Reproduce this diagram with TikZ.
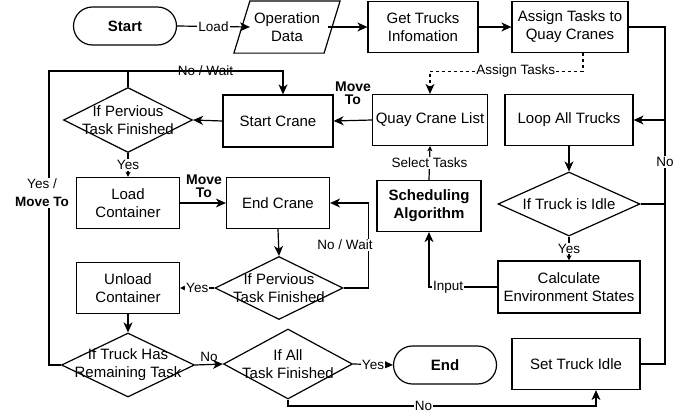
\documentclass[tikz,border=0pt]{standalone}
\usepackage{fontspec}
\setmainfont{Liberation Sans}
\usetikzlibrary{shapes.geometric,arrows.meta}
\begin{document}
\begin{tikzpicture}[x=1pt,y=-1pt,
  line width=1.2pt,
  box/.style={draw, rectangle, align=center, font=\fontsize{15}{18}\selectfont, minimum height=51pt, inner sep=0pt},
  term/.style={draw, rectangle, rounded corners=19pt, minimum width=103pt, minimum height=38pt, font=\bfseries\fontsize{15}{18}\selectfont},
  dia/.style={draw, diamond, inner sep=0pt},
  dtxt/.style={align=center, font=\fontsize{15}{18}\selectfont},
  arr/.style={-{Stealth[length=10pt,width=9pt,inset=3pt]}},
  sarr/.style={-{Stealth[length=5pt,width=5pt,inset=1pt]}},
  elab/.style={fill=white, inner sep=1pt, font=\fontsize{13.5}{15}\selectfont},
  mv/.style={align=center, font=\bfseries\fontsize{14}{13}\selectfont, inner sep=0pt}
]
\useasboundingbox (0,0) rectangle (699,413);

% nodes
\node[term] (start) at (125,26) {Start};
\node[box, draw=none, minimum width=89pt] (opdata) at (287,27) {Operation\\Data};
\draw ([xshift=8pt]opdata.north west) -- ([xshift=8pt]opdata.north east) -- ([xshift=-8pt]opdata.south east) -- ([xshift=-8pt]opdata.south west) -- cycle;
\node[box, minimum width=110pt] (gettruck) at (423,27) {Get Trucks\\Infomation};
\node[box, minimum width=116pt] (assign) at (570,27) {Assign Tasks to\\Quay Cranes};
\node[box, minimum width=128pt] (loop) at (569,120) {Loop All Trucks};
\node[box, minimum width=115pt] (qcl) at (430,120) {Quay Crane List};
\node[box, minimum width=110pt, minimum height=52pt] (startc) at (278,121) {Start Crane};
\node[dia, minimum width=129pt, minimum height=65pt, label={[dtxt]center:If Pervious\\Task Finished}] (d1) at (128,120) {};
\node[box, minimum width=103pt] (load) at (128,203) {Load\\Container};
\node[box, minimum width=103pt] (endc) at (278,203) {End Crane};
\node[dia, minimum width=128pt, minimum height=63pt, label={[dtxt]center:If Pervious\\Task Finished}] (d2) at (279,288) {};
\node[box, minimum width=103pt] (unload) at (128,288) {Unload\\Container};
\node[dia, minimum width=133pt, minimum height=64pt, label={[dtxt]center:If Truck Has\\Remaining Task}] (d3) at (128,365) {};
\node[dia, minimum width=129pt, minimum height=70pt, label={[dtxt]center:If All\\Task Finished}] (d4) at (288,364) {};
\node[term] (endn) at (445,365) {End};
\node[box, minimum width=128pt] (idle) at (576,364) {Set Truck Idle};
\node[dia, minimum width=142pt, minimum height=64pt, label={[dtxt]center:If Truck is Idle}] (ti) at (569,204) {};
\node[box, minimum width=142pt, minimum height=52pt] (calc) at (569,287) {Calculate\\Environment States};
\node[box, minimum width=104pt, font=\bfseries\fontsize{15}{18}\selectfont] (sched) at (429,206) {Scheduling\\Algorithm};

\coordinate (rc) at (665,120);
\coordinate (top) at (283,71);
\coordinate (lt) at (49,71);
\coordinate (bc) at (596,406);

% connectors
\draw[arr] (start.east) -- node[elab]{Load} ([xshift=8pt]opdata.west);
\draw[arr] ([xshift=-4pt]opdata.east) -- (gettruck.west);
\draw[arr] (gettruck.east) -- (assign.west);
\draw[arr] (assign.east) -| (rc) -- (loop.east);
\draw[arr, dash pattern=on 3pt off 3pt] ([xshift=13pt]assign.south) -- ++(0,18) -| node[elab, pos=0.22]{Assign Tasks} (qcl.north);
\draw[arr] (qcl.west) -- (startc.east);
\node[mv] (mv1) at (353,93) {Move\\To};
\draw[arr] (startc.west) -- (d1.east);
\draw (d1.north) |- node[elab, pos=0.75]{No / Wait} (top);
\draw[arr] (d3.west) -| (lt) -- (top) -- (top |- startc.north);
\node[elab, align=center, font=\fontsize{13.5}{18}\selectfont] (ymv) at (42,193) {Yes /\\\textbf{Move To}};
\draw[sarr] (d1.south) -- node[elab]{Yes} (load.north);
\draw[arr] (load.east) -- (endc.west);
\node[mv] (mv2) at (204,186) {Move\\To};
\draw[arr] (endc.south) -- (d2.north);
\draw[arr] (d2.east) -- ++(25,0) |- (endc.east);
\node[elab] (nw2) at (345,245) {No / Wait};
\draw[sarr] (d2.west) -- node[elab]{Yes} (unload.east);
\draw[arr] (unload.south) -- (d3.north);
\draw[arr] (d3.east) -- node[elab, fill=none, above=1pt]{No} (d4.west);
\draw[arr] (d4.east) -- node[elab]{Yes} (endn.west);
\draw[arr] (d4.south) |- node[elab, pos=0.72]{No} (bc) -- (bc |- idle.south);
\draw[arr] (loop.south) -- (ti.north);
\draw (ti.east) -- (ti.east -| rc);
\draw (idle.east) -| (rc);
\node[elab] (nor) at (665,162) {No};
\draw[sarr] (ti.south) -- node[elab]{Yes} (calc.north);
\draw[arr] (calc.west) -| node[elab, pos=0.36]{Input} (sched.south);
\draw[sarr] (sched.north) -- node[elab]{Select Tasks} (qcl.south);
\end{tikzpicture}
\end{document}
